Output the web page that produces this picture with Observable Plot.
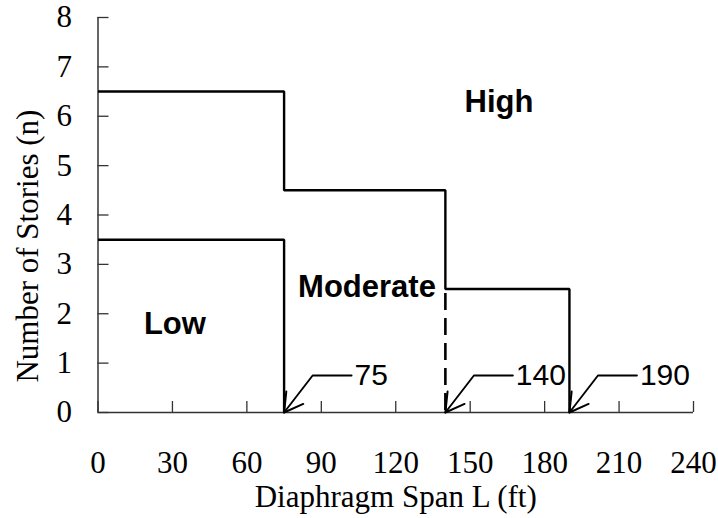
<!DOCTYPE html>
<html>
<head>
<meta charset="utf-8">
<script src="https://cdn.jsdelivr.net/npm/d3@7"></script>
<script src="https://cdn.jsdelivr.net/npm/@observablehq/plot@0.6"></script>
<style>
  html, body { margin: 0; padding: 0; background: #fff; }
</style>
</head>
<body>
<div id="chart"></div>
<script>
// ---- data ----
const xTicks = [0, 30, 60, 90, 120, 150, 180, 210, 240];
const yTicks = [0, 1, 2, 3, 4, 5, 6, 7, 8];

// boundary between Low and Moderate
const lowBoundaryX = [0, 75, 75];
const lowBoundaryY = [3.5, 3.5, 0];
// boundary between Moderate and High (solid part)
const highBoundaryX = [0, 75, 75, 140, 140, 190, 190];
const highBoundaryY = [6.5, 6.5, 4.5, 4.5, 2.5, 2.5, 0];
// dashed part
const dashedBoundaryX = [140, 140];
const dashedBoundaryY = [2.5, 0];

// span thresholds pointed by arrows
const thresholds = [75, 140, 190];
const leaderY = 0.75;      // height of the leader lines
const bendOffset = 11.5;   // leader bend, ft right of threshold
const labelOffset = 27.2;  // leader end, ft right of threshold

// region labels
const regionNames = ["Low", "Moderate", "High"];
const regionX = [31, 108.4, 161.6];
const regionY = [1.79, 2.54, 6.28];

// axis titles
const xTitle = "Diaphragm Span L (ft)";
const yTitle = "Number of Stories (n)";
const yTitleCenter = 3.37;

const toPoints = (xs, ys) => xs.map((x, i) => ({x, y: ys[i]}));
const lowPts = toPoints(lowBoundaryX, lowBoundaryY);
const highPts = toPoints(highBoundaryX, highBoundaryY);
const dashPts = toPoints(dashedBoundaryX, dashedBoundaryY);
const leaders = thresholds.flatMap(t => [
  {t, x: t + labelOffset, y: leaderY},
  {t, x: t + bendOffset, y: leaderY},
  {t, x: t, y: 0}
]);
const regions = regionNames.map((name, i) => ({name, x: regionX[i], y: regionY[i]}));

const barbs = {
  draw(context, l) {
    const a = Math.PI / 6;
    context.moveTo(-l * Math.sin(a), -l * Math.cos(a));
    context.lineTo(0, 0);
    context.lineTo(l * Math.sin(a), -l * Math.cos(a));
  }
};

const serif = "'Liberation Serif', 'Times New Roman', serif";
const sans = "'Liberation Sans', Arial, sans-serif";
const axisColor = "#333";

const chart = Plot.plot({
  width: 718,
  height: 518,
  marginLeft: 97.5,
  marginRight: 25,
  marginTop: 17,
  marginBottom: 106,
  style: {fontFamily: serif, fontSize: "31px", background: "#fff", color: "#000"},
  x: {domain: [0, 240], label: null},
  y: {domain: [0, 8], label: null},
  marks: [
    // tick labels
    Plot.axisX({ticks: xTicks, tickSize: 0, tickPadding: 38, label: null, fontSize: 31, fill: "#000"}),
    Plot.axisY({ticks: yTicks, tickSize: 0, tickPadding: 26, label: null, fontSize: 31, fill: "#000"}),
    // inward ticks
    Plot.ruleX(xTicks, {x: d => d, y1: 0, y2: 0, insetTop: -11, stroke: axisColor, strokeWidth: 1.3}),
    Plot.ruleY(yTicks, {y: d => d, x1: 0, x2: 0, insetRight: -11, stroke: axisColor, strokeWidth: 1.3}),
    // axis lines
    Plot.ruleX([0], {stroke: axisColor, strokeWidth: 1.5}),
    Plot.ruleY([0], {stroke: axisColor, strokeWidth: 1.5}),
    // boundaries
    Plot.line(lowPts, {x: "x", y: "y", stroke: "#000", strokeWidth: 2.4, strokeLinejoin: "miter", strokeLinecap: "butt"}),
    Plot.line(highPts, {x: "x", y: "y", stroke: "#000", strokeWidth: 2.4, strokeLinejoin: "miter", strokeLinecap: "butt"}),
    Plot.line(dashPts, {x: "x", y: "y", stroke: "#000", strokeWidth: 2.6, strokeDasharray: "17,8", strokeDashoffset: -4, strokeLinecap: "butt"}),
    // leaders and arrowheads
    Plot.line(leaders, {x: "x", y: "y", z: "t", stroke: "#000", strokeWidth: 1.9}),
    Plot.vector(thresholds, {x: d => d, y: 0, rotate: 36, length: 21, anchor: "start", shape: barbs, stroke: "#000", strokeWidth: 2}),
    Plot.text(thresholds, {x: d => d + labelOffset, y: leaderY, text: d => String(d), textAnchor: "start", dx: 3, fontFamily: sans, fontSize: 30, fill: "#000"}),
    // region labels
    Plot.text(regions, {x: "x", y: "y", text: "name", fontFamily: sans, fontWeight: "bold", fontSize: 31, fill: "#000"}),
    // axis titles
    Plot.text([xTitle], {text: d => d, frameAnchor: "bottom", dy: 94, fontSize: 31, fill: "#000"}),
    Plot.text([yTitle], {text: d => d, x: 0, y: yTitleCenter, rotate: -90, dx: -69.5, fontSize: 31, fill: "#000"})
  ]
});
document.getElementById("chart").appendChild(chart);
</script>
</body>
</html>
